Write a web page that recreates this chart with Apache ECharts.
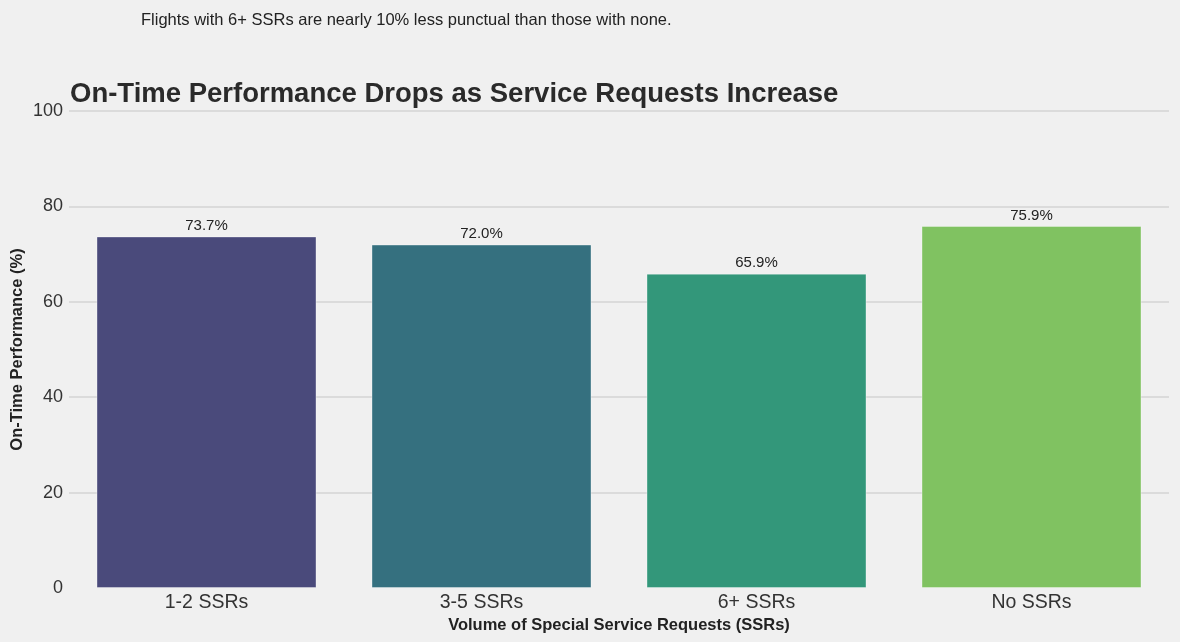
<!DOCTYPE html>
<html>
<head>
<meta charset="utf-8">
<script src="https://cdn.jsdelivr.net/npm/echarts@6/dist/echarts.min.js"></script>
<style>
  html, body { margin: 0; padding: 0; background: #f0f0f0; }
  #chart { width: 1180px; height: 642px; }
</style>
</head>
<body>
<div id="chart"></div>
<script>
// data
const categories = ["1-2 SSRs", "3-5 SSRs", "6+ SSRs", "No SSRs"];
const onTimePct = [73.7, 72.0, 65.9, 75.9];
const barColors = ["#4a4a7b", "#35707f", "#33977a", "#80c261"];
const yTicks = [0, 20, 40, 60, 80, 100];

const chart = echarts.init(document.getElementById("chart"));

chart.setOption({
    backgroundColor: "#f0f0f0",
    animation: false,
    textStyle: { fontFamily: "Liberation Sans, Arial, sans-serif" },
    title: [
        { text: "Flights with 6+ SSRs are nearly 10% less punctual than those with none.",
          left: 136, top: 7,
          textStyle: { fontSize: 16.5, fontWeight: "normal", color: "#222" } },
        { text: "On-Time Performance Drops as Service Requests Increase",
          left: 65, top: 75,
          textStyle: { fontSize: 27.5, fontWeight: "bold", color: "#2a2a2a" } },
    ],
    grid: { left: 69, right: 11, top: 111, bottom: 54, containLabel: false, outerBoundsMode: "none" },
    xAxis: {
        type: "category", data: categories,
        name: "Volume of Special Service Requests (SSRs)",
        nameLocation: "middle", nameGap: 29, nameMoveOverlap: false,
        nameTextStyle: { fontSize: 16.5, fontWeight: "bold", color: "#222" },
        axisLine: { show: false }, axisTick: { show: false },
        axisLabel: { fontSize: 19.5, color: "#333", margin: 5 },
    },
    yAxis: {
        type: "value", min: yTicks[0], max: yTicks[yTicks.length - 1], interval: 20,
        name: "On-Time Performance (%)",
        nameLocation: "middle", nameGap: 43, nameMoveOverlap: false,
        nameTextStyle: { fontSize: 16.5, fontWeight: "bold", color: "#222" },
        axisLine: { show: false }, axisTick: { show: false },
        axisLabel: { fontSize: 18, color: "#333", margin: 6 },
        splitLine: { show: true, showMinLine: false, lineStyle: { color: "#d4d4d4", width: 1.5 } },
    },
    series: [{
        type: "bar",
        barWidth: "80%",
        data: onTimePct.map(function(v, i) {
            return { value: v, itemStyle: { color: barColors[i] } };
        }),
        itemStyle: { borderColor: "rgba(255,255,255,0.35)", borderWidth: 1 },
        label: {
            show: true, position: "top", distance: 3,
            fontSize: 15, color: "#222",
            formatter: function(p) { return p.value.toFixed(1) + "%"; },
        },
    }],
});
</script>
</body>
</html>
